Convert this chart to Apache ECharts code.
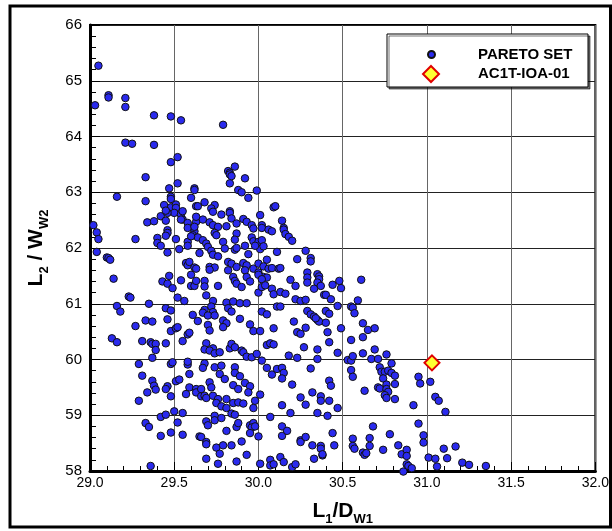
<!DOCTYPE html>
<html>
<head>
<meta charset="utf-8">
<script src="https://cdn.jsdelivr.net/npm/echarts@6/dist/echarts.min.js"></script>
<style>
  html, body { margin: 0; padding: 0; background: #fff; }
  #chart { width: 612px; height: 531px; }
</style>
</head>
<body>
<div id="chart"></div>
<script>
// axis ranges / ticks
const xRange = [29.0, 32.0];
const xStep = 0.5;
const yRange = [58, 66];
const yStep = 1;

const seriesNames = ['PARETO SET', 'AC1T-IOA-01'];

// design point (diamond)
const designPoint = [[31.03, 59.94]];

// pareto set: [L1/DW1, L2/WW2]
const paretoPoints = [
  [29.05,65.27],[29.03,64.56],[29.11,64.74],[29.11,64.70],[29.21,64.69],[29.21,64.53],[29.38,64.38],[29.48,64.36],
  [29.54,64.29],[29.79,64.21],[29.21,63.89],[29.25,63.87],[29.38,63.85],
  [29.48,63.54],[29.52,63.63],[29.33,63.27],[29.16,62.92],[29.47,63.07],[29.52,63.16],
  [29.82,63.38],[29.83,63.35],[29.83,63.32],[29.84,63.29],[29.86,63.46],[29.83,63.16],[29.92,63.25],
  [29.88,63.04],[29.90,63.00],[29.94,62.90],[29.99,63.03],
  [29.62,63.07],[29.62,63.04],[29.60,62.90],[29.33,62.84],[29.48,62.92],[29.48,62.73],[29.44,62.77],
  [29.51,62.78],[29.51,62.72],[29.50,62.63],[29.63,62.75],[29.68,62.82],[29.74,62.77],[29.72,62.71],[29.73,62.65],
  [29.78,62.60],[29.83,62.66],[29.83,62.63],[29.84,62.53],[29.91,62.52],[29.93,62.47],[30.01,62.59],[30.09,62.73],[30.10,62.75],
  [29.42,62.57],[29.45,62.49],[29.46,62.63],[29.34,62.46],[29.38,62.48],[29.54,62.60],[29.55,62.51],[29.58,62.45],
  [29.58,62.36],[29.63,62.47],[29.62,62.30],[29.67,62.51],[29.71,62.46],[29.73,62.41],[29.76,62.38],[29.74,62.27],
  [29.75,62.23],[29.81,62.39],[29.87,62.44],[29.87,62.26],[29.96,62.41],[29.97,62.35],[30.02,62.41],[30.02,62.36],
  [30.06,62.33],[30.08,62.30],
  [29.02,62.41],[29.04,62.28],[29.05,62.16],[29.27,62.16],[29.40,62.18],[29.40,62.09],[29.42,62.04],[29.46,62.32],
  [29.46,62.27],[29.51,62.16],[29.53,61.98],[29.58,62.11],[29.58,62.04],[29.61,62.23],[29.64,62.19],[29.67,62.14],
  [29.69,62.08],[29.70,62.02],[29.65,61.91],[29.72,61.95],[29.73,61.88],[29.79,62.11],[29.80,61.99],[29.86,61.97],
  [29.87,62.00],[29.92,62.04],[29.94,61.89],[29.96,62.19],[29.97,62.12],[30.00,62.11],[30.01,61.98],[30.02,62.14],
  [30.11,61.93],[29.46,61.92],[29.04,61.93],[29.10,61.83],
  [29.76,61.85],[29.86,62.15],[29.98,62.04],[30.03,62.03],[30.05,61.79],[29.48,62.88],[29.55,62.66],[29.54,62.51],
  [29.62,62.38],[29.64,62.75],[29.63,62.56],[29.60,62.21],[29.45,62.67],[29.45,62.22],
  [29.11,61.82],[29.12,61.79],[29.14,61.45],[29.23,61.13],[29.24,61.11],[29.43,61.40],[29.46,61.36],[29.49,61.28],
  [29.47,61.50],[29.52,61.11],[29.54,61.42],[29.56,61.05],[29.57,61.73],[29.58,61.69],[29.59,61.75],[29.60,61.52],
  [29.60,61.32],[29.62,61.32],[29.62,61.65],[29.63,61.63],[29.63,61.41],[29.35,61.00],
  [30.14,62.49],[30.15,62.36],[30.15,62.33],[30.16,62.25],[30.18,62.20],[30.20,62.13],[30.28,61.95],[30.31,61.82],
  [30.31,61.76],[30.23,61.80],
  [29.71,61.66],[29.74,61.65],[29.71,61.61],[29.68,61.41],[29.68,61.31],[29.76,61.32],[29.69,61.15],[29.73,61.05],
  [29.82,61.75],[29.84,61.72],[29.87,61.66],[29.82,61.60],[29.91,61.73],[29.93,61.69],[29.92,61.60],[29.85,61.48],
  [29.86,61.41],[29.87,61.36],[29.90,61.30],[29.93,61.48],[29.95,61.40],[29.97,61.63],[30.00,61.72],[30.03,61.67],
  [30.00,61.56],[30.03,61.48],[30.05,61.47],[30.00,61.52],[30.06,61.63],[30.08,61.64],[30.12,61.63],[30.13,61.64],
  [30.02,61.44],[30.00,61.20],[30.02,61.30],[30.04,61.33],[30.08,61.27],[30.09,61.17],[30.13,61.21],[30.16,61.18],
  [30.19,61.43],[30.22,61.32],[30.29,61.56],[30.29,61.47],[30.29,61.38],[30.35,61.53],[30.36,61.49],[30.36,61.44],
  [30.35,61.38],[30.33,61.27],[30.37,61.32],[30.39,61.16],[30.22,61.08],[30.25,61.05],[30.28,61.07],[29.81,61.02],
  [29.85,61.04],[29.89,61.01],[29.93,61.01],
  [29.16,60.96],[29.18,60.86],[29.45,60.92],[29.48,60.88],[29.46,60.72],[29.33,60.70],[29.37,60.68],[29.27,60.60],
  [29.61,60.80],[29.64,60.69],[29.13,60.38],[29.16,60.31],[29.31,60.33],[29.36,60.31],[29.37,60.28],[29.39,60.28],
  [29.39,60.17],[29.45,60.29],[29.48,60.51],[29.51,60.56],[29.52,60.58],[29.55,60.33],[29.58,60.45],[29.59,60.48],
  [29.37,60.03],[29.29,59.92],[29.31,59.71],[29.37,59.62],[29.38,59.53],[29.39,59.46],[29.34,59.41],[29.46,59.52],
  [29.45,59.47],[29.48,59.92],[29.49,59.95],[29.51,59.61],[29.53,59.64],[29.48,59.34],[29.58,59.91],[29.58,59.96],
  [29.59,59.74],[29.59,59.50],[29.57,59.38],[29.63,59.47],[29.63,59.41],[29.66,59.34],[29.29,59.26],[29.42,58.97],
  [29.45,59.01],[29.50,59.07],[29.55,59.04],[29.33,58.86],[29.35,58.79],[29.48,58.69],[29.52,58.87],[29.55,58.65],
  [29.42,58.63],[29.65,58.62],[29.36,58.09],
  [30.11,60.95],[30.13,60.95],[29.72,60.95],[29.68,60.89],[29.73,60.85],[29.67,60.84],[29.70,60.79],[29.74,60.79],
  [29.79,60.70],[29.81,60.65],[29.79,60.58],[29.89,60.73],[29.82,60.92],[29.84,60.86],[29.70,60.62],[29.71,60.52],
  [29.95,60.63],[29.97,60.51],[30.01,60.51],[30.02,60.86],[30.05,60.81],[30.09,60.56],[30.21,60.68],[30.23,60.49],
  [30.25,60.46],[30.28,60.57],[30.29,60.87],[30.31,60.81],[30.33,60.77],[30.35,60.71],[30.36,60.68],[30.34,60.74],
  [29.69,60.29],[29.73,60.20],[29.68,60.18],[29.71,60.16],[29.74,60.11],[29.77,60.13],[29.83,60.20],[29.84,60.28],
  [29.86,60.22],[29.90,60.16],[29.91,60.13],[29.93,60.05],[29.96,60.04],[29.99,60.10],[30.05,60.26],[30.07,60.29],
  [30.09,60.27],[30.18,60.07],[30.23,60.03],[30.27,60.22],[30.35,60.18],[30.35,60.01],
  [29.68,59.93],[29.67,59.85],[29.74,59.86],[29.78,59.89],[29.77,59.74],[29.80,59.65],[29.86,59.86],[29.86,59.76],
  [29.89,59.70],[30.02,59.98],[30.05,59.85],[30.08,59.73],[30.11,59.83],[30.14,59.85],[30.15,59.76],[30.14,59.66],
  [30.20,59.55],[30.31,59.84],
  [29.71,59.59],[29.72,59.50],[29.66,59.47],[29.68,59.35],[29.69,59.31],[29.73,59.35],[29.76,59.29],[29.75,59.22],
  [29.81,59.29],[29.78,59.16],[29.81,59.13],[29.85,59.54],[29.88,59.47],[29.92,59.58],[29.95,59.52],[29.94,59.41],
  [29.85,59.22],[29.88,59.23],[29.91,59.21],[29.97,59.13],[29.98,59.26],[30.01,59.37],[29.84,59.03],[29.86,59.01],
  [30.14,59.18],[30.25,59.32],[30.28,59.19],[30.32,59.41],[30.37,59.34],[30.37,59.26],[30.35,59.04],[30.07,58.97],
  [30.19,59.04],
  [29.69,58.89],[29.70,58.82],[29.74,58.99],[29.74,58.91],[29.78,58.95],[29.81,58.72],[29.87,58.79],[29.88,58.86],
  [29.95,58.82],[29.97,58.86],[29.96,58.78],[29.95,58.68],[29.98,58.80],[30.00,58.62],[30.14,58.80],[30.14,58.63],
  [30.17,58.72],[30.25,58.55],[30.25,58.52],[30.28,58.61],[30.32,58.46],[30.37,58.45],[29.66,58.61],[29.69,58.52],
  [29.69,58.48],[29.75,58.42],[29.77,58.31],[29.79,58.46],[29.84,58.46],[29.90,58.53],[29.93,58.29],[29.87,58.17],
  [29.69,58.22],[29.76,58.13],[30.01,58.13],[30.07,58.20],[30.07,58.10],[30.09,58.12],[30.13,58.25],[30.15,58.16],
  [30.20,58.07],[30.22,58.12],[30.33,58.22],[30.38,58.28],
  [30.48,61.41],[30.44,61.34],[30.49,61.28],[30.61,61.43],[30.40,61.16],[30.43,61.08],[30.47,60.96],[30.40,60.87],
  [30.42,60.82],[30.40,60.66],[30.41,60.49],[30.42,60.31],[30.47,60.12],[30.49,60.56],[30.59,61.06],[30.55,60.95],
  [30.56,60.93],[30.57,60.83],[30.62,60.65],[30.65,60.53],[30.69,60.56],[30.62,60.40],[30.55,60.35],[30.62,60.11],
  [30.69,60.18],[30.76,60.09],[30.67,60.01],[30.71,60.01],[30.53,59.99],[30.55,59.98],[30.56,60.06],[30.79,59.93],
  [30.72,59.86],[30.73,59.78],[30.75,59.78],[30.77,59.80],[30.79,59.76],[30.81,59.71],[30.74,59.66],[30.55,59.81],
  [30.56,59.69],[30.42,59.62],[30.43,59.53],[30.63,59.44],[30.71,59.50],[30.72,59.48],[30.76,59.55],[30.76,59.47],
  [30.77,59.42],[30.75,59.36],[30.76,59.31],[30.81,59.56],[30.81,59.29],[30.95,59.69],[30.96,59.57],[31.02,59.60],
  [31.05,59.33],[31.07,59.26],[31.11,59.06],[30.92,59.18],[30.42,59.26],[30.47,59.13],[30.41,58.99],[30.68,58.80],
  [30.95,58.85],[30.78,58.66],[30.98,58.64],[30.98,58.51],[30.44,58.68],[30.45,58.46],[30.37,58.40],[30.38,58.30],
  [30.56,58.58],[30.56,58.45],[30.57,58.40],[30.66,58.59],[30.66,58.45],[30.62,58.33],[30.63,58.29],[30.64,58.32],
  [30.74,58.38],[30.83,58.46],[30.85,58.30],[30.88,58.38],[30.88,58.27],[30.88,58.12],[30.89,58.09],[30.91,58.05],
  [30.86,57.99],[31.01,58.24],[31.05,58.22],[31.10,58.40],[31.12,58.23],[31.06,58.08],[31.17,58.44],
  [31.21,58.15],[31.25,58.11],[31.35,58.09]
];

const font = "'Liberation Sans', Arial, sans-serif";

const titleRich = {
  b: { fontFamily: font, fontSize: 21, fontWeight: 'bold', color: '#000', lineHeight: 22, verticalAlign: 'top' },
  s: { fontFamily: font, fontSize: 13, fontWeight: 'bold', color: '#000', lineHeight: 13, verticalAlign: 'top', padding: [12, 0, 0, 0] }
};

// legend label: pushes the text right of the icon
function legendLabel(gap) {
  return {
    fontFamily: font, fontSize: 15, fontWeight: 'bold', color: '#000',
    rich: { t: { fontFamily: font, fontSize: 15, fontWeight: 'bold', color: '#000', lineHeight: 16, padding: [0, 0, 0, gap] } }
  };
}

const chart = echarts.init(document.getElementById('chart'), null, { renderer: 'canvas' });

const option = {
  animation: false,
  backgroundColor: '#fff',
  grid: {
    left: 90, right: 16, top: 25, bottom: 59,
    show: true, borderColor: '#000', borderWidth: 2, backgroundColor: 'transparent'
  },
  xAxis: {
    type: 'value',
    min: xRange[0], max: xRange[1], interval: xStep,
    name: '{b|L}{s|1}{b|/D}{s|W1}',
    nameLocation: 'middle',
    nameGap: 30,
    nameTextStyle: { rich: titleRich },
    axisLine: { show: true, onZero: false, lineStyle: { color: '#000', width: 3 } },
    axisTick: { show: true, inside: true, length: 9, lineStyle: { color: '#000', width: 1 } },
    minorTick: { show: true, splitNumber: 5, length: 5, lineStyle: { color: '#000', width: 1 } },
    axisLabel: { color: '#000', fontFamily: font, fontSize: 14, margin: 5, formatter: v => v.toFixed(1) },
    splitLine: { show: true, lineStyle: { color: '#666', width: 1 } }
  },
  yAxis: {
    type: 'value',
    min: yRange[0], max: yRange[1], interval: yStep,
    name: '{b|L}{s|2}{b| / W}{s|W2}',
    nameLocation: 'middle',
    nameGap: 42,
    nameTextStyle: { rich: titleRich },
    axisLine: { show: true, onZero: false, lineStyle: { color: '#000', width: 3 } },
    axisTick: { show: true, inside: true, length: 10, lineStyle: { color: '#000', width: 1 } },
    minorTick: { show: true, splitNumber: 5, length: 6, lineStyle: { color: '#000', width: 1 } },
    axisLabel: { color: '#000', fontFamily: font, fontSize: 15, margin: 8 },
    splitLine: { show: true, lineStyle: { color: '#222', width: 1 } }
  },
  legend: [
    {
      data: [seriesNames[0]], left: 427, top: 47, padding: 0,
      itemWidth: 7, itemHeight: 7, selectedMode: false,
      formatter: n => '{t|' + n + '}', textStyle: legendLabel(38)
    },
    {
      data: [seriesNames[1]], left: 422, top: 65, padding: 0,
      itemWidth: 16, itemHeight: 16, selectedMode: false,
      formatter: n => '{t|' + n + '}', textStyle: legendLabel(34)
    }
  ],
  graphic: [
    {
      type: 'rect', z: 3,
      shape: { x: 387, y: 34, width: 201, height: 53 },
      style: { fill: '#fff', stroke: '#000', lineWidth: 1, shadowColor: 'rgba(0,0,0,0.55)', shadowOffsetX: 2, shadowOffsetY: 2, shadowBlur: 0 }
    },
    {
      type: 'rect', z: 10, silent: true,
      shape: { x: 10, y: 6, width: 600.5, height: 521 },
      style: { fill: 'none', stroke: '#000', lineWidth: 3 }
    }
  ],
  series: [
    {
      name: seriesNames[0],
      type: 'scatter',
      data: paretoPoints,
      symbol: 'circle',
      symbolSize: 7.5,
      clip: false,
      itemStyle: { color: '#2a2aee', borderColor: '#111', borderWidth: 1, opacity: 1 },
      z: 3
    },
    {
      name: seriesNames[1],
      type: 'scatter',
      data: designPoint,
      symbol: 'diamond',
      symbolSize: 15,
      itemStyle: { color: '#ffff33', borderColor: '#e00000', borderWidth: 2, opacity: 1 },
      z: 4
    }
  ]
};

chart.setOption(option);
</script>
</body>
</html>
